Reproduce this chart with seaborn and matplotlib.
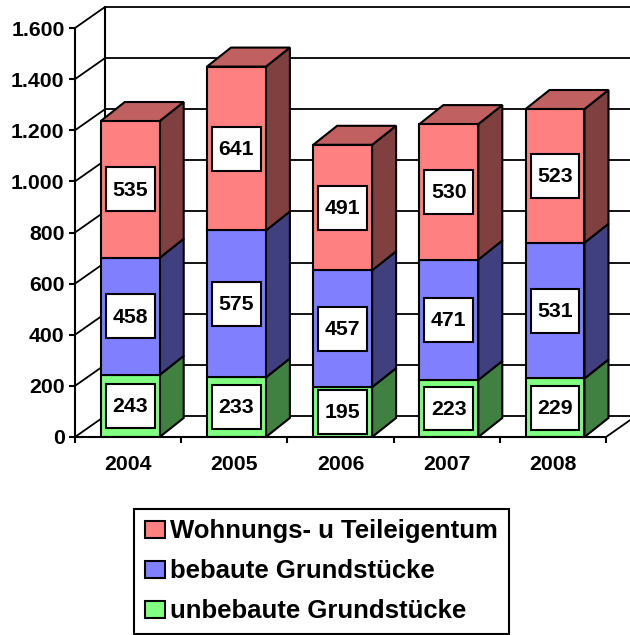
import pandas as pd
import seaborn as sns
import matplotlib.pyplot as plt
from matplotlib.patches import Patch, Polygon, Rectangle

years = ["2004", "2005", "2006", "2007", "2008"]
unbebaut = [243, 233, 195, 223, 229]
bebaut = [458, 575, 457, 471, 531]
wohnungen = [535, 641, 491, 530, 523]
y_ticks = [0, 200, 400, 600, 800, 1000, 1200, 1400, 1600]
y_labels = ["0", "200", "400", "600", "800", "1.000", "1.200", "1.400", "1.600"]
series_names = ["unbebaute Grundstücke", "bebaute Grundstücke", "Wohnungs- u Teileigentum"]

front_colors = ["#80FF80", "#8080FF", "#FF8080"]
side_colors = ["#408040", "#404080", "#804040"]
top_color = "#C06060"

W, H = 630, 635
BAR_W = 0.555
# 3d offsets, in data units
WALL_DX, WALL_DY = 30 / 106.2, 21 / 0.2553
BAR_DX, BAR_DY = 24 / 106.2, 19 / 0.2553

sns.set_style("white")
plt.rcParams["font.family"] = ["Liberation Sans", "DejaVu Sans"]
plt.rcParams["text.color"] = "black"
plt.rcParams["ytick.labelcolor"] = "black"

df = pd.DataFrame({"year": years, "unbebaut": unbebaut, "bebaut": bebaut, "wohnungen": wohnungen})

fig = plt.figure(figsize=(W / 100, H / 100), dpi=100)
ax = fig.add_axes([75 / W, 1 - 437 / H, 531 / W, 409 / H])

bottom = [0] * len(df)
for col, front, side in zip(["unbebaut", "bebaut", "wohnungen"], front_colors, side_colors):
    sns.barplot(data=df, x="year", y=col, ax=ax, color=front, saturation=1, width=BAR_W,
                bottom=bottom, edgecolor="black", linewidth=1.5, zorder=4)
    new_patches = ax.patches[-len(df):]
    for i, bar in enumerate(new_patches):
        x1 = bar.get_x() + bar.get_width()
        y0, y1 = bar.get_y(), bar.get_y() + bar.get_height()
        ax.add_patch(Polygon([(x1, y0), (x1 + BAR_DX, y0 + BAR_DY), (x1 + BAR_DX, y1 + BAR_DY), (x1, y1)],
                             facecolor=side, edgecolor="black", linewidth=1.5, zorder=3, clip_on=False))
        ax.add_patch(Rectangle((i - 0.23, (y0 + y1) / 2 - 86), 0.46, 172, facecolor="white",
                               edgecolor="black", linewidth=1.5, zorder=5))
        ax.text(i, (y0 + y1) / 2 - 3, str(df[col][i]), ha="center", va="center", fontsize=15.3,
                fontweight="bold", zorder=6)
    bottom = [b + v for b, v in zip(bottom, df[col])]

# top faces of the stacks
for i, total in enumerate(bottom):
    x0, x1 = i - BAR_W / 2, i + BAR_W / 2
    ax.add_patch(Polygon([(x0, total), (x0 + BAR_DX, total + BAR_DY), (x1 + BAR_DX, total + BAR_DY), (x1, total)],
                         facecolor=top_color, edgecolor="black", linewidth=1.5, zorder=3, clip_on=False))

# bars sit a little right of the centre between the ticks
x_left, x_right = -0.52, 4.48
ax.set_xlim(x_left, x_right)
ax.set_ylim(0, 1600)

# back wall, floor and gridlines
for t in y_ticks:
    ax.plot([x_left, x_left + WALL_DX], [t, t + WALL_DY], color="black", lw=1.3, clip_on=False, zorder=1)
    ax.plot([x_left + WALL_DX, x_right + WALL_DX], [t + WALL_DY] * 2, color="black", lw=1.3, clip_on=False, zorder=1)
ax.plot([x_left + WALL_DX] * 2, [WALL_DY, 1600 + WALL_DY], color="black", lw=1.5, clip_on=False, zorder=1)
ax.plot([x_right, x_right + WALL_DX], [0, WALL_DY], color="black", lw=1.3, clip_on=False, zorder=1)

sns.despine(ax=ax, top=True, right=True)
for s in ["left", "bottom"]:
    ax.spines[s].set_linewidth(1.5)
    ax.spines[s].set_color("black")
ax.spines["bottom"].set_zorder(7)

ax.set_yticks(y_ticks, y_labels)
ax.set_xticks([x_left + i for i in range(len(years) + 1)], minor=False)
ax.set_xticklabels([])
ax.tick_params(axis="both", which="major", length=4.5, width=1.5, color="black", left=True, bottom=True)
ax.tick_params(axis="y", labelsize=15.3, pad=3)
for lab in ax.get_yticklabels():
    lab.set_fontweight("bold")
for i, year in enumerate(years):
    ax.annotate(year, xy=(i, 0), xytext=(-2, -28), xycoords="data", textcoords="offset pixels",
                ha="center", va="center", fontsize=15.3, fontweight="bold", annotation_clip=False)
ax.set_xlabel("")
ax.set_ylabel("")

handles = [Patch(facecolor=c, edgecolor="black", linewidth=1.5) for c in front_colors[::-1]]
leg = fig.legend(handles, series_names[::-1], loc="lower left", bbox_to_anchor=(134 / W, 1 - 634 / H),
                 borderaxespad=0, frameon=True, fancybox=False, edgecolor="black", framealpha=1,
                 prop={"weight": "bold", "size": 18.5}, handlelength=0.78, handleheight=0.66,
                 handletextpad=0.2, labelspacing=0.62, borderpad=0.42)
leg.get_frame().set_linewidth(1.5)

fig.savefig("out.png", dpi=100)
